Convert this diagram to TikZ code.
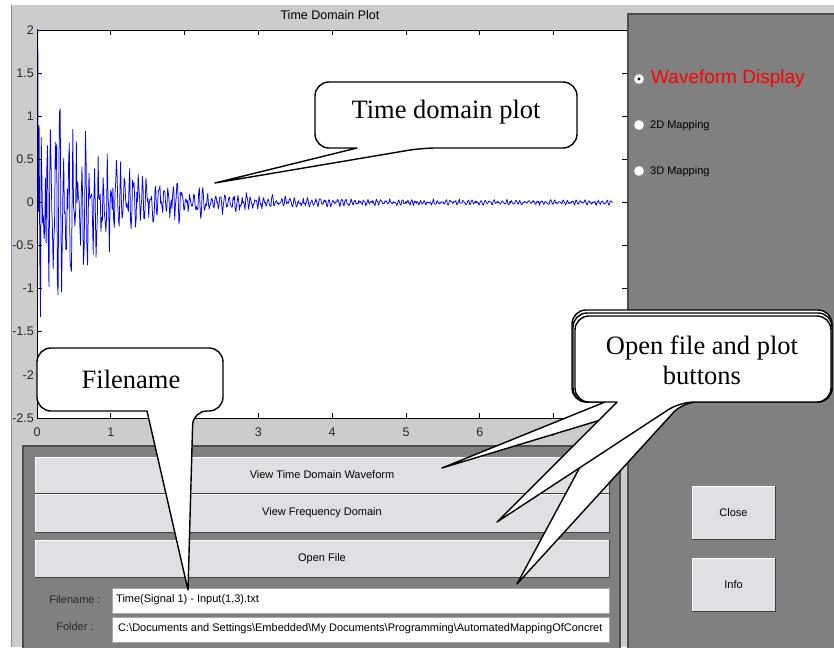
\documentclass[tikz,border=0pt]{standalone}
\usepackage{fontspec}
\setmainfont{Liberation Serif}
\newfontfamily\guifont{Liberation Sans}
\definecolor{figbg}{RGB}{204,204,204}
\definecolor{panelgray}{RGB}{128,128,128}
\definecolor{btnface}{RGB}{224,223,227}
\definecolor{winedge}{RGB}{130,140,175}
\definecolor{sigblue}{RGB}{0,0,255}
\newcommand\guibutton[6]{%
  \fill[btnface] (#2,#3) rectangle (#4,#5);
  \draw[white, line width=1pt] (#2,#5) -- (#2,#3) -- (#4,#3);
  \draw[black!75, line width=1pt] (#2,#5) -- (#4,#5) -- (#4,#3);
  \node[guitext] (#1) at ({(#2+#4)/2},{(#3+#5)/2}) {#6};}
\newcommand\mycallout[8]{%
  \draw[callout] (#5,#4) [rounded corners=14pt] -- (#1,#4) -- (#1,#2) -- (#3,#2) -- (#3,#4) -- (#6,#4) [sharp corners] -- (#7,#8) -- cycle;}
\begin{document}
\begin{tikzpicture}[x=1pt,y=-1pt,
  guitext/.style={font=\guifont\fontsize{11}{13}\selectfont, inner sep=0pt},
  ticklab/.style={font=\guifont\fontsize{12.5}{14}\selectfont, text=black!85, inner sep=0pt},
  fieldbox/.style={fill=white, draw=black!35, line width=0.8pt},
  callout/.style={fill=white, draw=black, line width=1.4pt, line join=round},
  callouttext/.style={font=\fontsize{26.5}{30}\selectfont, align=center, inner sep=0pt},
  radio/.style={fill=white, draw=black!30, line width=0.5pt}]
\useasboundingbox (0,0) rectangle (834,647);
\clip (0,0) rectangle (834,647);
% window background
\fill[white] (0,0) rectangle (834,647);
\fill[figbg] (11,5) rectangle (834,647);
\draw[winedge, line width=1.5pt] (11.5,5) -- (11.5,647);
% title
\node[guitext, font=\guifont\fontsize{12.5}{14}\selectfont] (title) at (330,15) {Time Domain Plot};
% axes
\fill[white] (37,30) rectangle (628,418);
\begin{scope}
  \clip (37,30) rectangle (628,418);
  \pgfmathsetseed{4711}
  \draw[sigblue, line width=0.75pt, line join=round]
    plot[domain=0:7.8, samples=820, variable=\t]
    ({37+73.8*\t},{202.4-86.2*((1.5*exp(-1.1*\t)+0.03)*(0.55*sin(360*mod(17*\t,1))+0.25*sin(360*mod(23.3*\t,1))+0.5*rand)+1.6*exp(-18*\t)*sin(360*mod(38*\t,1)))});
\end{scope}
\draw[black, line width=0.9pt] (37,30) rectangle (628,418);
\foreach \i in {0,...,8}{
  \draw[black, line width=0.8pt] ({37+73.8*\i},418) -- ({37+73.8*\i},413);
  \draw[black, line width=0.8pt] ({37+73.8*\i},30) -- ({37+73.8*\i},35);
}
\foreach \j in {0,...,9}{
  \draw[black, line width=0.8pt] (37,{30+43.1*\j}) -- (42,{30+43.1*\j});
  \draw[black, line width=0.8pt] (628,{30+43.1*\j}) -- (622,{30+43.1*\j});
}
\foreach \lab [count=\j from 0] in {2,1.5,1,0.5,0,-0.5,-1,-1.5,-2,-2.5}
  \node[ticklab, anchor=east] (yl\j) at (34,{30+43.1*\j}) {\lab};
\foreach \i in {0,...,7}
  \node[ticklab] (xl\i) at ({37+73.8*\i},432) {\i};
% bottom panel
\fill[panelgray] (23,446) rectangle (620,650);
\draw[black!70, line width=1.2pt] (23,650) -- (23,446) -- (620,446) -- (620,650);
\guibutton{btnTime}{35}{457}{609}{493}{View Time Domain Waveform}
\guibutton{btnFreq}{35}{494}{609}{532}{View Frequency Domain}
\guibutton{btnOpen}{35}{540}{609}{577}{Open File}
\node[guitext, text=black!85] (lblFile) at (75,600) {Filename :};
\node[guitext, text=black!85] (lblFolder) at (75,627) {Folder :};
\draw[fieldbox] (112,588) rectangle (609,613);
\draw[fieldbox] (112,617) rectangle (609,642);
\node[guitext, anchor=west] (fileText) at (116,600) {Time(Signal 1) - Input(1,3).txt};
\node[guitext, anchor=west] (folderText) at (118,629) {C:\textbackslash Documents and Settings\textbackslash Embedded\textbackslash My Documents\textbackslash Programming\textbackslash AutomatedMappingOfConcret};
% right panel
\fill[panelgray] (628,14) rectangle (836,650);
\draw[black!70, line width=1.5pt] (628,650) -- (628,14) -- (836,14);
\draw[radio] (639,79) circle (5);
\fill[black] (639,79) circle (1.6);
\draw[radio] (639,125) circle (5);
\draw[radio] (639,171) circle (5);
\node[guitext, anchor=west, text=red, font=\guifont\fontsize{19}{21}\selectfont] (rWave) at (651,79) {Waveform Display};
\node[guitext, anchor=west] (r2D) at (650,126) {2D Mapping};
\node[guitext, anchor=west] (r3D) at (650,172) {3D Mapping};
\guibutton{btnClose}{692}{486}{775}{539}{Close}
\guibutton{btnInfo}{692}{558}{775}{611}{Info}
% callouts
\mycallout{315}{82}{577}{148}{357}{422}{215}{183}
\node[callouttext] (cTime) at (446,112) {Time domain plot};
\mycallout{37}{348}{223}{411}{147}{193}{188}{590}
\node[callouttext] (cFile) at (131,379) {Filename};
\mycallout{572}{310}{832}{402}{615}{683}{517}{584}
\mycallout{573}{313}{832}{402}{605}{660}{442}{468}
\mycallout{575}{316}{831}{402}{617}{680}{497}{522}
\node[callouttext] (cOpen) at (702,360) {Open file and plot\\buttons};
\end{tikzpicture}
\end{document}
